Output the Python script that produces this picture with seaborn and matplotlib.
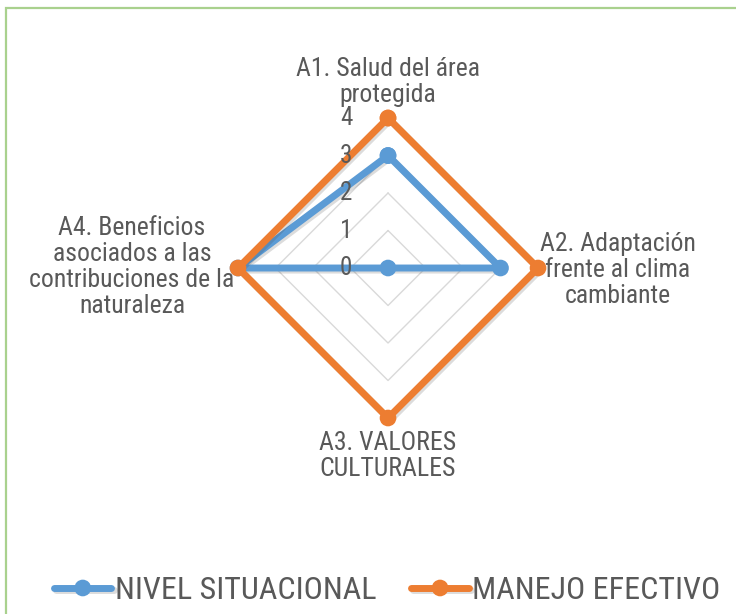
import numpy as np
import pandas as pd
import matplotlib
matplotlib.use("Agg")
import matplotlib.pyplot as plt
import matplotlib.patheffects as pe
from matplotlib.patches import Rectangle
import seaborn as sns

# data
categories = [
    "A1. Salud del área\nprotegida",
    "A2. Adaptación\nfrente al clima\ncambiante",
    "A3. VALORES\nCULTURALES",
    "A4. Beneficios\nasociados a las\ncontribuciones de la\nnaturaleza",
]
series_names = ["NIVEL SITUACIONAL", "MANEJO EFECTIVO"]
nivel_situacional = [3, 3, 0, 4]
manejo_efectivo = [4, 4, 4, 4]
scale_ticks = [0, 1, 2, 3, 4]

palette = ["#5B9BD5", "#ED7D31"]
text_color = "#595959"
# label offsets in pixels from the end of each spoke
label_offsets = [(0, 36), (80, -2), (0, -38), (-106, 1)]

sns.set_style("white")
plt.rcParams["font.family"] = ["Roboto Condensed", "Liberation Sans", "DejaVu Sans"]


def main():
    n = len(categories)
    angles = list(np.linspace(0, 2 * np.pi, n, endpoint=False))
    theta = angles + angles[:1]

    rows = []
    for name, vals in zip(series_names, [nivel_situacional, manejo_efectivo]):
        for t, v in zip(theta, vals + vals[:1]):
            rows.append({"theta": t, "value": v, "serie": name})
    df = pd.DataFrame(rows)

    fig = plt.figure(figsize=(7.36, 6.14), dpi=100)
    ax = fig.add_axes([0.3227, 0.3192, 0.409, 0.4886], projection="polar")
    ax.set_theta_offset(np.pi / 2)
    ax.set_theta_direction(-1)

    # diamond grid rings
    for lvl in scale_ticks[1:]:
        ax.plot(theta, [lvl] * len(theta), color="#D9D9D9", lw=1.0, zorder=1)

    sns.lineplot(data=df, x="theta", y="value", hue="serie", hue_order=series_names,
                 palette=palette, sort=False, estimator=None, marker="o",
                 markersize=12, markeredgewidth=0, linewidth=5, ax=ax, zorder=3)

    for line in ax.lines[len(scale_ticks) - 1:]:
        line.set_clip_on(False)
        line.set_path_effects([pe.SimpleLineShadow(offset=(1.5, -1.5), alpha=0.18,
                                                   shadow_color="#404040"), pe.Normal()])

    ax.set_ylim(0, 4)
    ax.set_xticks([])
    ax.set_yticks([])
    ax.grid(False)
    ax.spines["polar"].set_visible(False)
    ax.set_xlabel("")
    ax.set_ylabel("")
    ax.patch.set_alpha(0)

    for t in scale_ticks:
        ax.annotate(str(t), xy=(0, t), xytext=(-42, 0), textcoords="offset pixels",
                    ha="center", va="center", fontsize=18, color=text_color)

    for ang, lab, off in zip(angles, categories, label_offsets):
        ax.annotate(lab, xy=(ang, 4), xytext=off, textcoords="offset pixels",
                    ha="center", va="center", fontsize=18.5, color=text_color,
                    linespacing=1.12)

    handles, labels = ax.get_legend_handles_labels()
    ax.get_legend().remove()
    fig.legend(handles, labels, loc="center", bbox_to_anchor=(0.526, 0.038), ncol=2,
               frameon=False, fontsize=23, handlelength=1.8, handletextpad=0.1,
               columnspacing=1.1, labelcolor=text_color)

    fig.patches.append(Rectangle((6 / 736, -0.05), 1.0, 1.05 - 8 / 614,
                                 transform=fig.transFigure, fill=False,
                                 edgecolor="#A9D18E", lw=1.6))

    fig.savefig("out.png", dpi=100, facecolor="white")


if __name__ == "__main__":
    main()
